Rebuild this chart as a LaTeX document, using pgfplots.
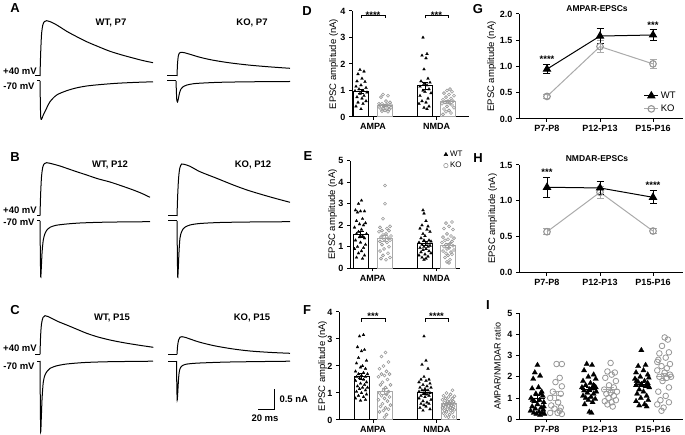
\documentclass[border=0pt]{standalone}
\usepackage{pgfplots}
\pgfplotsset{compat=1.18}
\usepackage{fontspec}
\setmainfont{Liberation Sans}
\definecolor{kog}{RGB}{150,150,150}
\definecolor{kol}{RGB}{170,170,170}
\newcommand{\pl}{\bfseries\fontsize{13}{14}\selectfont}
\newcommand{\bt}{\bfseries\fontsize{9.5}{11}\selectfont}
\pgfplotsset{
  panel/.style={scale only axis, anchor=south west, axis x line*=bottom, axis y line*=left,
    axis line style={line width=1pt}, tick align=outside, major tick length=3pt,
    tick style={black, line width=1pt}, ymin=0, clip=false,
    /pgf/number format/assume math mode=true,
    tick label style={font=\bfseries\fontsize{9}{10}\selectfont},
    ylabel style={font=\fontsize{9.5}{11}\selectfont}, ytick pos=left},
  wtbar/.style={forget plot, ybar, bar width=15, bar shift=0pt, draw=black, fill=white, line width=1pt},
  kobar/.style={forget plot, ybar, bar width=15, bar shift=0pt, draw=kol, fill=white, line width=1pt},
  wtpt/.style={forget plot, only marks, mark=triangle*, mark size=1.7pt, mark options={black, fill=black, line width=0.2pt}},
  kopt/.style={forget plot, only marks, mark=o, mark size=1.5pt, mark options={kog, line width=0.6pt}},
  wterr/.style={forget plot, draw=none, mark=none, error bars/.cd, y dir=both, y explicit,
     error bar style={draw=black, line width=0.9pt}, error mark options={rotate=90, draw=black, mark size=3pt, line width=0.9pt}},
  koerr/.style={forget plot, draw=none, mark=none, error bars/.cd, y dir=both, y explicit,
     error bar style={draw=kol, line width=0.9pt}, error mark options={rotate=90, draw=kol, mark size=3pt, line width=0.9pt}},
  ipw/.style={forget plot, only marks, mark=triangle*, mark size=3.1pt, mark options={black, fill=black, line width=0.2pt}},
  ipk/.style={forget plot, only marks, mark=o, mark size=2.8pt, mark options={kog, line width=0.8pt}},
  tr/.style={black, line width=1pt},
}
\begin{document}
\begin{tikzpicture}
\path[use as bounding box] (0pt,0pt) rectangle (685pt,435pt);

% ---------------- D ----------------
\begin{axis}[panel, at={(352pt,318pt)}, width=117pt, height=106pt, xmin=0, xmax=117, ymax=4,
  ytick={0,1,2,3,4}, xtick={21,84.5}, xticklabels={AMPA,NMDA}, ylabel={EPSC amplitude (nA)}, ylabel shift=-4.5pt]
\addplot[wtbar] coordinates {(9,0.97) (73,1.18)};
\addplot[kobar] coordinates {(33,0.43) (96,0.58)};
\addplot[wtpt] table[x expr=\thisrow{d}+9, y=v, row sep=\\] {d v\\ -1 1.78\\ 3 1.72\\ -3 1.62\\ 1 1.45\\ -4 1.35\\ 4 1.33\\ 0 1.2\\ -5 1.15\\ 5 1.1\\ -2 1.05\\ 2 1.0\\ -6 0.98\\ 6 0.93\\ -1 0.88\\ 3 0.8\\ -4 0.75\\ 1 0.7\\ 5 0.6\\ -3 0.55\\ 2 0.5\\ -5 0.4\\ 0 0.3\\};
\addplot[kopt] table[x expr=\thisrow{d}+33, y=v, row sep=\\] {d v\\ -2 0.85\\ 3 0.8\\ -4 0.75\\ 1 0.6\\ 5 0.55\\ -3 0.5\\ 2 0.48\\ -5 0.45\\ 0 0.43\\ 4 0.4\\ -1 0.4\\ -6 0.38\\ 6 0.35\\ -2 0.33\\ 2 0.3\\ -4 0.3\\ 4 0.28\\ 0 0.25\\ -3 0.22\\ 3 0.2\\ 6 0.45\\ -6 0.5\\};
\addplot[wtpt] table[x expr=\thisrow{d}+73, y=v, row sep=\\] {d v\\ -2 3.0\\ 2 2.38\\ -3 2.32\\ 1 2.22\\ -1 1.8\\ 3 1.45\\ -4 1.35\\ 5 1.3\\ -1 1.25\\ 2 1.2\\ -5 1.15\\ 4 1.05\\ -2 1.0\\ 0 0.95\\ 6 0.9\\ -5 0.8\\ 3 0.7\\ -3 0.6\\ 1 0.55\\ -6 0.5\\ 4 0.4\\ -1 0.35\\ 2 0.3\\};
\addplot[kopt] table[x expr=\thisrow{d}+96, y=v, row sep=\\] {d v\\ 2 1.05\\ -1 1.0\\ 4 0.95\\ -4 0.9\\ 1 0.85\\ 6 0.8\\ -2 0.75\\ 3 0.7\\ -5 0.65\\ 0 0.6\\ 5 0.6\\ -3 0.55\\ 2 0.5\\ -6 0.5\\ 4 0.45\\ -1 0.4\\ 6 0.35\\ -4 0.3\\ 1 0.25\\ -2 0.2\\ 3 0.15\\ -5 0.1\\};
\addplot[wterr] coordinates {(9,0.97) +- (0,0.08) (73,1.18) +- (0,0.13)};
\addplot[koerr] coordinates {(33,0.43) +- (0,0.04) (96,0.58) +- (0,0.06)};
\end{axis}

% ---------------- E ----------------
\begin{axis}[panel, at={(350pt,166.7pt)}, width=110pt, height=107.6pt, xmin=0, xmax=110, ymax=5,
  ytick={0,1,2,3,4,5}, xtick={22.75,86.5}, xticklabels={AMPA,NMDA}, ylabel={EPSC amplitude (nA)}, ylabel shift=-5.5pt,
  legend style={draw=none, fill=none, at={(0.85,1.11)}, anchor=north west, font=\fontsize{8}{9}\selectfont, row sep=0pt, inner sep=0pt},
  legend cell align=left]
\addlegendimage{only marks, mark=triangle*, mark size=2.2pt, mark options={black, fill=black}}
\addlegendentry{WT}
\addlegendimage{only marks, mark=o, mark size=2.2pt, mark options={kog, line width=0.6pt}}
\addlegendentry{KO}
\addplot[wtbar] coordinates {(10.5,1.58) (75,1.15)};
\addplot[kobar] coordinates {(35,1.4) (98,1.07)};
\addplot[wtpt] table[x expr=\thisrow{d}+10.5, y=v, row sep=\\] {d v\\ 1 3.15\\ -2 3.0\\ -5 2.7\\ 4 2.65\\ 0 2.65\\ -3 2.6\\ 2 2.3\\ -4 2.2\\ 5 2.1\\ -1 2.05\\ 3 2.0\\ -6 1.9\\ 1 1.8\\ -2 1.7\\ 6 1.6\\ -4 1.6\\ 2 1.5\\ -1 1.45\\ 4 1.4\\ -5 1.3\\ 0 1.2\\ 5 1.1\\ -3 1.0\\ 3 0.95\\ -6 0.9\\ 1 0.8\\ -2 0.7\\ 4 0.6\\ -4 0.5\\ 2 0.45\\};
\addplot[kopt] table[x expr=\thisrow{d}+35, y=v, row sep=\\] {d v\\ 0 3.85\\ 0 3.0\\ -2 2.3\\ 5 1.95\\ -5 1.9\\ 2 1.85\\ -3 1.75\\ 4 1.75\\ -6 1.7\\ 1 1.6\\ -2 1.55\\ 6 1.5\\ -4 1.45\\ 3 1.4\\ -1 1.35\\ 5 1.3\\ -5 1.25\\ 2 1.2\\ -3 1.1\\ 4 1.0\\ -1 0.9\\ -5 0.8\\ 3 0.7\\ -2 0.6\\ 5 0.5\\ -4 0.45\\ 1 0.4\\};
\addplot[wtpt] table[x expr=\thisrow{d}+75, y=v, row sep=\\] {d v\\ -2 2.7\\ -1 2.55\\ 1 2.2\\ -3 2.0\\ 3 1.95\\ -5 1.85\\ 2 1.8\\ 5 1.7\\ -2 1.6\\ 0 1.5\\ -4 1.4\\ 4 1.3\\ -1 1.3\\ 6 1.25\\ -6 1.2\\ 2 1.15\\ -3 1.1\\ 5 1.05\\ -1 1.0\\ 3 1.0\\ -5 0.95\\ 1 0.9\\ -2 0.85\\ 4 0.8\\ -4 0.75\\ 6 0.7\\ 0 0.65\\ -6 0.6\\ 3 0.55\\ -3 0.5\\ 1 0.45\\ -1 0.4\\};
\addplot[kopt] table[x expr=\thisrow{d}+98, y=v, row sep=\\] {d v\\ 4 2.15\\ -2 2.1\\ 1 1.95\\ -4 1.85\\ 5 1.8\\ -1 1.6\\ 3 1.5\\ -5 1.45\\ 6 1.4\\ 0 1.35\\ -3 1.3\\ 4 1.25\\ -6 1.2\\ 2 1.15\\ -2 1.1\\ 5 1.05\\ -4 1.0\\ 1 0.95\\ -1 0.9\\ 6 0.85\\ -5 0.8\\ 3 0.75\\ -2 0.7\\ 4 0.65\\ 0 0.6\\ -3 0.5\\ 2 0.4\\ -1 0.3\\ 1 0.25\\};
\addplot[wterr] coordinates {(10.5,1.58) +- (0,0.13) (75,1.15) +- (0,0.1)};
\addplot[koerr] coordinates {(35,1.4) +- (0,0.13) (98,1.07) +- (0,0.09)};
\end{axis}

% ---------------- F ----------------
\begin{axis}[panel, at={(339pt,15pt)}, width=121pt, height=108pt, xmin=0, xmax=121, ymax=4,
  ytick={0,1,2,3,4}, xtick={34,97.75}, xticklabels={AMPA,NMDA}, ylabel={EPSC amplitude (nA)}, ylabel shift=-6.5pt]
\addplot[wtbar] coordinates {(22.5,1.62) (86,1.03)};
\addplot[kobar] coordinates {(45.5,1.05) (109.5,0.6)};
\addplot[wtpt] table[x expr=\thisrow{d}+22.5, y=v, row sep=\\] {d v\\ 2 3.15\\ -2 3.1\\ -4 2.7\\ 3 2.6\\ 0 2.55\\ -3 2.3\\ 5 2.2\\ -5 2.1\\ 1 2.0\\ -1 1.95\\ 4 1.9\\ -6 1.8\\ 2 1.75\\ -3 1.7\\ 6 1.7\\ 0 1.65\\ -5 1.6\\ 4 1.6\\ -2 1.55\\ 2 1.5\\ -6 1.45\\ 5 1.4\\ -1 1.35\\ 3 1.3\\ -4 1.25\\ 1 1.2\\ 6 1.2\\ -2 1.15\\ 4 1.1\\ -5 1.05\\ 0 1.0\\ 5 0.95\\ -3 0.9\\ 2 0.85\\ -6 0.8\\ 4 0.75\\ -1 0.72\\};
\addplot[kopt] table[x expr=\thisrow{d}+45.5, y=v, row sep=\\] {d v\\ 1 2.5\\ -3 2.35\\ 4 2.15\\ -1 2.0\\ -5 1.9\\ 2 1.8\\ 5 1.7\\ -3 1.7\\ 0 1.65\\ -6 1.6\\ 3 1.5\\ -2 1.4\\ 6 1.3\\ -4 1.3\\ 1 1.2\\ -1 1.1\\ 4 1.05\\ -5 1.0\\ 2 0.95\\ -3 0.9\\ 5 0.85\\ 0 0.8\\ -6 0.75\\ 3 0.7\\ -2 0.6\\ 6 0.55\\ -4 0.5\\ 1 0.45\\ 4 0.4\\ -1 0.35\\ -5 0.3\\ 2 0.2\\ 0 0.1\\};
\addplot[wtpt] table[x expr=\thisrow{d}+86, y=v, row sep=\\] {d v\\ -1 3.1\\ 1 2.2\\ -3 2.05\\ 3 1.9\\ -1 1.6\\ 4 1.5\\ -4 1.5\\ 1 1.45\\ -6 1.4\\ 5 1.35\\ -2 1.3\\ 2 1.25\\ -5 1.2\\ 6 1.2\\ 0 1.15\\ -3 1.1\\ 3 1.1\\ -6 1.05\\ 5 1.0\\ -1 1.0\\ 2 0.95\\ -4 0.9\\ 4 0.9\\ 0 0.85\\ -6 0.8\\ 6 0.75\\ -2 0.7\\ 2 0.65\\ -4 0.6\\ 4 0.6\\ -1 0.55\\ 1 0.5\\ -5 0.45\\ 5 0.4\\ -2 0.35\\};
\addplot[kopt] table[x expr=\thisrow{d}+109.5, y=v, row sep=\\] {d v\\ 4 1.1\\ -2 1.0\\ 2 0.95\\ -5 0.9\\ 6 0.88\\ 0 0.85\\ -3 0.8\\ 4 0.8\\ -6 0.75\\ 2 0.7\\ -1 0.7\\ 5 0.68\\ -4 0.65\\ 1 0.62\\ 6 0.6\\ -2 0.58\\ 3 0.55\\ -5 0.55\\ 0 0.52\\ 5 0.5\\ -3 0.48\\ 2 0.45\\ -6 0.45\\ 4 0.42\\ -1 0.4\\ 6 0.38\\ -4 0.35\\ 2 0.35\\ -2 0.3\\ 4 0.28\\ -5 0.25\\ 1 0.2\\ -3 0.15\\ 5 0.12\\ 0 0.1\\};
\addplot[wterr] coordinates {(22.5,1.62) +- (0,0.1) (86,1.03) +- (0,0.08)};
\addplot[koerr] coordinates {(45.5,1.05) +- (0,0.1) (109.5,0.6) +- (0,0.04)};
\end{axis}

% ---------------- G ----------------
\begin{axis}[panel, at={(519pt,316pt)}, width=164pt, height=105pt, xmin=-0.528, xmax=2.566, ymax=2,
  ytick={0,0.5,1,1.5,2}, yticklabel style={/pgf/number format/.cd, fixed, fixed zerofill, precision=1},
  xtick={0,1,2}, xticklabels={P7-P8,P12-P13,P15-P16}, ylabel={EPSC amplitude (nA)}, ylabel shift=-3pt,
  reverse legend, legend cell align=left,
  legend style={draw=none, fill=none, at={(0.76,0.28)}, anchor=north west, font=\fontsize{9.5}{11}\selectfont, row sep=1pt, inner sep=0pt},
  legend image code/.code={\draw[mark repeat=2,mark phase=2,#1] plot coordinates {(0pt,0pt) (7pt,0pt) (14pt,0pt)};}]
\addplot[kol, line width=1pt, mark=o, mark size=3.3pt, mark options={draw=kog, fill=white, line width=1.1pt},
  error bars/.cd, y dir=both, y explicit, error bar style={draw=kol, line width=0.9pt}, error mark options={rotate=90, draw=kol, mark size=3.5pt, line width=0.9pt}]
  coordinates {(0,0.43) +- (0,0.03) (1,1.38) +- (0,0.12) (2,1.05) +- (0,0.09)};
\addlegendentry{KO}
\addplot[black, line width=1pt, mark=triangle*, mark size=4pt, mark options={black, fill=black},
  error bars/.cd, y dir=both, y explicit, error bar style={draw=black, line width=0.9pt}, error mark options={rotate=90, draw=black, mark size=3.5pt, line width=0.9pt}]
  coordinates {(0,0.95) +- (0,0.09) (1,1.58) +- (0,0.14) (2,1.6) +- (0,0.1)};
\addlegendentry{WT}
\end{axis}

% ---------------- H ----------------
\begin{axis}[panel, at={(519pt,162.3pt)}, width=164pt, height=107.7pt, xmin=-0.528, xmax=2.566, ymax=1.5,
  ytick={0,0.5,1,1.5}, yticklabel style={/pgf/number format/.cd, fixed, fixed zerofill, precision=1},
  xtick={0,1,2}, xticklabels={P7-P8,P12-P13,P15-P16}, ylabel={EPSC amplitude (nA)}, ylabel shift=-4pt]
\addplot[kol, line width=1pt, mark=o, mark size=3.3pt, mark options={draw=kog, fill=white, line width=1.1pt},
  error bars/.cd, y dir=both, y explicit, error bar style={draw=kol, line width=0.9pt}, error mark options={rotate=90, draw=kol, mark size=3.5pt, line width=0.9pt}]
  coordinates {(0,0.57) +- (0,0.04) (1,1.12) +- (0,0.08) (2,0.58) +- (0,0.03)};
\addplot[black, line width=1pt, mark=triangle*, mark size=4pt, mark options={black, fill=black},
  error bars/.cd, y dir=both, y explicit, error bar style={draw=black, line width=0.9pt}, error mark options={rotate=90, draw=black, mark size=3.5pt, line width=0.9pt}]
  coordinates {(0,1.19) +- (0,0.14) (1,1.18) +- (0,0.09) (2,1.05) +- (0,0.09)};
\end{axis}

% ---------------- I ----------------
\begin{axis}[panel, at={(519pt,15.7pt)}, width=164pt, height=106.3pt, xmin=-0.528, xmax=2.566, ymax=5,
  ytick={0,1,2,3,4,5}, xtick={0,1,2}, xticklabels={P7-P8,P12-P13,P15-P16}, ylabel={AMPAR/NMDAR ratio},
  ylabel style={font=\fontsize{9}{10}\selectfont}]
\addplot[ipw] table[x expr=\thisrow{d}-0.18, y=v, row sep=\\] {d v\\ 0 2.55\\ -0.05 2.2\\ 0.05 2.05\\ -0.08 1.9\\ 0.02 1.5\\ -0.1 1.45\\ 0.08 1.3\\ -0.03 1.2\\ 0.1 1.1\\ -0.12 1.0\\ 0.04 0.9\\ -0.06 0.85\\ 0.12 0.8\\ 0 0.7\\ -0.1 0.6\\ 0.07 0.55\\ -0.04 0.5\\ 0.11 0.45\\ -0.13 0.4\\ 0.03 0.35\\ -0.07 0.3\\ 0.09 0.3\\ -0.02 0.25\\ 0.13 0.25\\ 0.05 0.2\\ 0.12 0.6\\ -0.09 0.9\\ 0.06 1.2\\};
\addplot[ipk] table[x expr=\thisrow{d}+0.16, y=v, row sep=\\] {d v\\ 0.02 2.6\\ 0.12 2.6\\ 0.08 1.95\\ 0 1.75\\ 0.12 1.55\\ -0.05 1.3\\ 0.1 1.2\\ -0.1 1.0\\ 0.05 0.8\\ -0.08 0.65\\ 0.1 0.55\\ -0.02 0.5\\ 0.08 0.4\\ -0.1 0.3\\ 0.04 0.3\\ 0.12 0.25\\};
\addplot[ipw] table[x expr=\thisrow{d}+0.8, y=v, row sep=\\] {d v\\ -0.05 2.6\\ 0.05 2.55\\ -0.1 2.3\\ 0.08 2.1\\ -0.02 2.0\\ 0.12 1.9\\ -0.12 1.8\\ 0.02 1.7\\ -0.07 1.6\\ 0.1 1.55\\ -0.14 1.5\\ 0.05 1.45\\ 0 1.4\\ -0.1 1.35\\ 0.13 1.3\\ -0.04 1.25\\ 0.08 1.2\\ -0.12 1.1\\ 0.03 1.05\\ -0.07 1.0\\ 0.11 0.95\\ -0.02 0.9\\ 0.06 0.8\\ -0.09 0.7\\ 0 0.35\\ 0.04 0.3\\ 0.12 1.5\\ 0.08 1.6\\};
\addplot[ipk] table[x expr=\thisrow{d}+1.2, y=v, row sep=\\] {d v\\ 0 2.65\\ -0.06 2.25\\ 0.08 2.2\\ 0.02 2.1\\ -0.1 1.95\\ 0.1 1.8\\ -0.03 1.6\\ 0.06 1.5\\ -0.12 1.4\\ 0.12 1.3\\ 0 1.25\\ -0.08 1.2\\ 0.06 1.1\\ -0.04 1.0\\ 0.1 0.9\\ -0.11 0.85\\ 0.02 0.8\\ -0.06 0.7\\ 0.04 0.6\\};
\addplot[ipw] table[x expr=\thisrow{d}+1.8, y=v, row sep=\\] {d v\\ -0.02 3.25\\ 0.06 2.55\\ -0.08 2.5\\ 0.02 2.3\\ -0.12 2.2\\ 0.1 2.1\\ -0.04 2.0\\ 0.12 1.95\\ -0.14 1.9\\ 0.04 1.8\\ -0.08 1.75\\ 0.1 1.7\\ -0.02 1.65\\ -0.12 1.6\\ 0.06 1.55\\ 0.13 1.5\\ -0.06 1.4\\ 0.02 1.3\\ -0.1 1.2\\ 0.08 1.1\\ -0.03 1.0\\ 0.11 0.9\\ -0.12 0.85\\ 0.04 0.7\\ -0.06 0.65\\ 0.08 0.6\\ 0.1 1.6\\ -0.11 1.8\\};
\addplot[ipk] table[x expr=\thisrow{d}+2.2, y=v, row sep=\\] {d v\\ 0.02 3.85\\ 0.08 3.75\\ -0.03 3.45\\ 0.1 3.15\\ -0.08 3.1\\ 0.04 2.9\\ -0.1 2.8\\ 0.12 2.6\\ -0.04 2.5\\ 0.06 2.4\\ -0.12 2.3\\ 0.02 2.2\\ 0.12 2.1\\ -0.08 2.0\\ 0.06 1.95\\ -0.02 1.8\\ 0.1 1.5\\ -0.1 1.3\\ 0.04 1.1\\ -0.06 0.9\\ 0.1 0.8\\ -0.12 0.7\\ 0 0.55\\ -0.04 0.4\\ 0.14 2.0\\ -0.12 2.7\\};
% mean lines
\addplot[forget plot, black, line width=1pt] coordinates {(-0.33,1.0) (-0.03,1.0)};
\addplot[forget plot, black, line width=1pt] coordinates {(0.65,1.42) (0.95,1.42)};
\addplot[forget plot, black, line width=1pt] coordinates {(1.65,1.65) (1.95,1.65)};
\addplot[forget plot, kol, line width=1pt] coordinates {(0.03,1.1) (0.31,1.1)};
\addplot[forget plot, kol, line width=1pt] coordinates {(1.06,1.4) (1.34,1.4)};
\addplot[forget plot, kol, line width=1pt] coordinates {(2.06,2.0) (2.34,2.0)};
\addplot[wterr] coordinates {(-0.18,1.0) +- (0,0.14) (0.8,1.42) +- (0,0.1) (1.8,1.65) +- (0,0.1)};
\addplot[koerr] coordinates {(0.17,1.1) +- (0,0.2) (1.2,1.4) +- (0,0.12) (2.2,2.0) +- (0,0.16)};
\end{axis}

% ---------------- overlay: traces and annotations (pixel coordinates) ----------------
\begin{axis}[at={(0pt,0pt)}, anchor=south west, scale only axis, width=685pt, height=435pt,
  xmin=0, xmax=685, ymin=0, ymax=435, y dir=reverse, hide axis, clip=false]
% A
\addplot[tr] coordinates {(35,76) (40,76)};
\addplot[tr, smooth] coordinates {(40,76) (40.6,55) (41.5,35) (42.8,25) (44.5,21.5) (46.7,20.7) (50,21.6) (55,24) (60,27) (66.7,31.3) (75,35.8) (86.7,41.7) (98,46.5) (110,51.3) (122,55) (133,58) (143,60.6) (153,62.7)};
\addplot[tr] coordinates {(37,81) (40,81)};
\addplot[tr, smooth] coordinates {(40,81) (40.3,100) (40.7,117) (41.5,119.3) (43.3,115) (46.7,108) (50,101.7) (56.7,95) (66.7,90.7) (76,88) (86.7,86) (100,84.6) (116.7,83.3) (135,82.4) (153,81.8)};
\addplot[tr] coordinates {(167,76) (177,76)};
\addplot[tr, smooth] coordinates {(177,76) (177.5,64) (178.3,56) (179.5,53) (181,52.3) (184,52.6) (190,54.3) (200,57.3) (211,59.8) (222,61.7) (233.3,63.3) (250,65.2) (270,66.9) (290,68.3)};
\addplot[tr] coordinates {(167,81) (176,81)};
\addplot[tr, smooth] coordinates {(176,81) (176.4,92) (176.8,100) (177.5,102) (178.3,99) (179.5,93) (181,89) (183,86.8) (187,85) (193,83.8) (200,83.2) (220,82.3) (250,81.8) (290,81.5)};
% B
\addplot[tr] coordinates {(37,215.7) (40,215.7)};
\addplot[tr, smooth] coordinates {(40,215.7) (40.6,195) (41.5,177) (42.8,167) (44.5,163.5) (46.7,162.7) (50,163.3) (55,164.6) (60,166) (66.7,168.3) (76,171.5) (86.7,175) (98,178.8) (110,182) (122,186) (133.3,190) (142,193.5) (150,197.3)};
\addplot[tr] coordinates {(37,221) (40,221)};
\addplot[tr, smooth] coordinates {(40,221) (40.3,250) (40.7,276.7) (41.3,268) (42.1,252) (43.3,240) (45,233.5) (47.3,229.5) (50,227.3) (56,225.3) (66.7,224) (80,223) (100,222.3) (125,221.9) (150,221.7)};
\addplot[tr] coordinates {(168,216) (177,216)};
\addplot[tr, smooth] coordinates {(177,216) (177.7,195) (178.6,178) (179.8,168) (181.7,164) (184,164.3) (190,166.3) (200,171.7) (216.7,178.3) (233.3,185) (247,190) (260,194) (275,198.3) (290,202.3)};
\addplot[tr] coordinates {(168,221) (177,221)};
\addplot[tr, smooth] coordinates {(177,221) (177.3,250) (177.7,277) (178.3,268) (179,252) (180,238) (181.7,231.5) (184.5,227.5) (190,225) (200,223.5) (220,222.5) (250,222) (290,221.7)};
% C
\addplot[tr] coordinates {(35,354.3) (40,354.3)};
\addplot[tr, smooth] coordinates {(40,354.3) (40.6,336) (41.5,324) (43,317.5) (45,315.7) (48,316.5) (52,318.5) (58,321.5) (66.7,325) (77,329.3) (86.7,333.3) (98,337) (110,340) (122,342.4) (133.3,344.3) (143,345.8) (153.3,347.3)};
\addplot[tr] coordinates {(37,361) (40,361)};
\addplot[tr, smooth] coordinates {(40,361) (40.3,400) (40.7,431.7) (41.3,418) (42.1,398) (43.3,382) (45,375) (47.5,370.8) (50,368.4) (56,366) (66.7,364) (85,362.5) (110,361.7) (153,361.2)};
\addplot[tr] coordinates {(168,354.3) (177,354.3)};
\addplot[tr, smooth] coordinates {(177,354.3) (177.6,346) (178.6,340) (180,337.2) (182,336.7) (186,337.6) (190,339) (200,342.3) (215,345.9) (233.3,349) (250,351) (270,352.4) (290,353.3)};
\addplot[tr] coordinates {(168,361) (176.5,361)};
\addplot[tr, smooth] coordinates {(176.5,361) (176.8,385) (177.2,400) (177.8,392) (178.6,378) (179.6,370) (181.5,366.3) (185,364.5) (190,363.7) (200,363) (230,362) (290,361.2)};
% scale bar
\addplot[tr] coordinates {(258,409) (274,409) (274,389)};
\node[font=\bt, anchor=west] at (axis cs:276,399) {0.5 nA};
\node[font=\bt] at (axis cs:265,418.5) {20 ms};
% trace labels
\node[font=\pl] at (axis cs:15,8) {A};
\node[font=\pl] at (axis cs:15,157) {B};
\node[font=\pl] at (axis cs:15,310) {C};
\node[font=\bt] at (axis cs:111,23) {WT, P7};
\node[font=\bt] at (axis cs:252,23) {KO, P7};
\node[font=\bt] at (axis cs:110,165) {WT, P12};
\node[font=\bt] at (axis cs:253,165) {KO, P12};
\node[font=\bt] at (axis cs:112,318) {WT, P15};
\node[font=\bt] at (axis cs:252,318) {KO, P15};
\node[font=\bt] at (axis cs:20,71) {+40 mV};
\node[font=\bt] at (axis cs:19,86) {-70 mV};
\node[font=\bt] at (axis cs:20,210) {+40 mV};
\node[font=\bt] at (axis cs:19,222) {-70 mV};
\node[font=\bt] at (axis cs:20,348) {+40 mV};
\node[font=\bt] at (axis cs:19,366) {-70 mV};
% panel letters
\node[font=\pl] at (axis cs:307,11) {D};
\node[font=\pl] at (axis cs:308,156) {E};
\node[font=\pl] at (axis cs:307,310) {F};
\node[font=\pl] at (axis cs:478,9) {G};
\node[font=\pl] at (axis cs:478,158) {H};
\node[font=\pl] at (axis cs:488,305) {I};
% titles
\node[font=\bfseries\fontsize{8.5}{10}\selectfont] at (axis cs:597,8.5) {AMPAR-EPSCs};
\node[font=\bfseries\fontsize{8.5}{10}\selectfont] at (axis cs:597,159) {NMDAR-EPSCs};
% significance brackets
\addplot[black, line width=0.9pt] coordinates {(361,18.3) (361,15) (385,15) (385,18.3)};
\addplot[black, line width=0.9pt] coordinates {(425,18.3) (425,15) (448,15) (448,18.3)};
\addplot[black, line width=0.9pt] coordinates {(361,321.7) (361,318.3) (385,318.3) (385,321.7)};
\addplot[black, line width=0.9pt] coordinates {(425,321.7) (425,318.3) (448,318.3) (448,321.7)};
\node[font=\bt, anchor=base] at (axis cs:373,18.5) {****};
\node[font=\bt, anchor=base] at (axis cs:436.5,18.5) {***};
\node[font=\bt, anchor=base] at (axis cs:373,319.5) {***};
\node[font=\bt, anchor=base] at (axis cs:436.5,319.5) {****};
\node[font=\bt, anchor=base] at (axis cs:547,63) {****};
\node[font=\bt, anchor=base] at (axis cs:653,28.5) {***};
\node[font=\bt, anchor=base] at (axis cs:547,176) {***};
\node[font=\bt, anchor=base] at (axis cs:653,188.5) {****};
\end{axis}
\end{tikzpicture}
\end{document}
